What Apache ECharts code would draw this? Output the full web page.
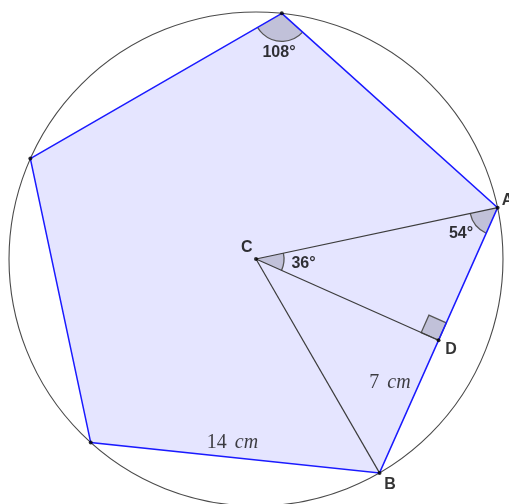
<!DOCTYPE html>
<html>
<head>
<meta charset="utf-8">
<script src="https://cdn.jsdelivr.net/npm/echarts@6/dist/echarts.min.js"></script>
<style>
html,body{margin:0;padding:0;background:#fff;}
#chart{width:509px;height:504px;}
</style>
</head>
<body>
<div id="chart"></div>
<script>
// Geometry in cm, origin at the centre C (y up)
const circleRadius = 11.909;
const pentagonX = [1.245, 11.649, 5.955, -7.969, -10.880];
const pentagonY = [11.845, 2.476, -10.314, -8.851, 4.844];
const pointNames = ['C', 'A', 'D', 'B'];
const pointX = [0, 11.649, 8.802, 5.955];
const pointY = [0, 2.476, -3.919, -10.314];
// segments from C
const segFrom = ['C', 'C', 'C'];
const segTo = ['A', 'B', 'D'];
// angles: vertex, arm1, arm2
const angleVertexX = [1.245, 11.649, 0];
const angleVertexY = [11.845, 2.476, 0];
const angleArm1X = [-10.880, 0, 11.649];
const angleArm1Y = [4.844, 0, 2.476];
const angleArm2X = [11.649, 5.955, 8.802];
const angleArm2Y = [2.476, -10.314, -3.919];
const angleLabels = ['108°', '54°', '36°'];
const angleLabelX = [1.109, 9.885, 2.290];
const angleLabelY = [9.932, 1.205, -0.217];
// text labels
const labelTexts = ['C', 'A', 'D', 'B'];
const labelX = [-0.448, 11.85, 9.402, 6.46];
const labelY = [0.530, 2.797, -4.388, -10.884];
const lengthTexts = ['7', '14'];
const lengthX = [6.461, -1.133];
const lengthY = [-5.979, -8.872];

const S = 20.74; // px per cm (used only to size the visible window)
const xMin = -256 / S, xMax = 253 / S, yMax = 259 / S, yMin = -245 / S;

function pt(name) { const i = pointNames.indexOf(name); return [pointX[i], pointY[i]]; }

const chart = echarts.init(document.getElementById('chart'), null, {renderer: 'canvas'});

const ink = '#3c3c3c';
const wedgeFill = 'rgba(110,110,130,0.3)';

const option = {
  animation: false,
  backgroundColor: '#fff',
  grid: {left: 0, right: 0, top: 0, bottom: 0, containLabel: false},
  xAxis: {type: 'value', min: xMin, max: xMax, show: false},
  yAxis: {type: 'value', min: yMin, max: yMax, show: false},
  series: [
    { // circle
      type: 'custom', coordinateSystem: 'cartesian2d', data: [[0, 0]], z: 1, silent: true, clip: false,
      renderItem: function (params, api) {
        const c = api.coord([api.value(0), api.value(1)]);
        const r = api.size([circleRadius, 0])[0];
        return {type: 'circle', shape: {cx: c[0], cy: c[1], r: r},
          style: {fill: null, stroke: '#4a4a4a', lineWidth: 1.1}};
      }
    },
    { // pentagon fill
      type: 'custom', coordinateSystem: 'cartesian2d', data: [[0, 0]], z: 2, silent: true, clip: false,
      renderItem: function (params, api) {
        const pts = pentagonX.map((x, i) => api.coord([x, pentagonY[i]]));
        return {type: 'polygon', shape: {points: pts}, style: {fill: 'rgb(229,229,255)', stroke: null}};
      }
    },
    { // angle wedges
      type: 'custom', coordinateSystem: 'cartesian2d',
      data: angleVertexX.map((x, i) => [x, angleVertexY[i], angleArm1X[i], angleArm1Y[i], angleArm2X[i], angleArm2Y[i]]),
      z: 3, silent: true, clip: false,
      renderItem: function (params, api) {
        const v = api.coord([api.value(0), api.value(1)]);
        const p1 = api.coord([api.value(2), api.value(3)]);
        const p2 = api.coord([api.value(4), api.value(5)]);
        let a1 = Math.atan2(p1[1] - v[1], p1[0] - v[0]);
        let a2 = Math.atan2(p2[1] - v[1], p2[0] - v[0]);
        let d = a2 - a1;
        while (d < 0) d += 2 * Math.PI;
        let start = a1, end = a2;
        if (d > Math.PI) { start = a2; end = a1; }
        while (end < start) end += 2 * Math.PI;
        const r = 28;
        return {type: 'group', children: [
          {type: 'sector', shape: {cx: v[0], cy: v[1], r0: 0, r: r, startAngle: start, endAngle: end, clockwise: true},
            style: {fill: wedgeFill, stroke: null}},
          {type: 'arc', shape: {cx: v[0], cy: v[1], r: r, startAngle: start, endAngle: end, clockwise: true},
            style: {fill: null, stroke: '#555', lineWidth: 1.3}}
        ]};
      }
    },
    { // right angle mark at D
      type: 'custom', coordinateSystem: 'cartesian2d', data: [[pt('D')[0], pt('D')[1]]], z: 3, silent: true, clip: false,
      renderItem: function (params, api) {
        const d = api.coord([api.value(0), api.value(1)]);
        const c = api.coord(pt('C'));
        const a = api.coord(pt('A'));
        const s = 19;
        const u1 = [c[0] - d[0], c[1] - d[1]], l1 = Math.hypot(u1[0], u1[1]);
        const u2 = [a[0] - d[0], a[1] - d[1]], l2 = Math.hypot(u2[0], u2[1]);
        const e1 = [u1[0] / l1 * s, u1[1] / l1 * s], e2 = [u2[0] / l2 * s, u2[1] / l2 * s];
        const pts = [d, [d[0] + e1[0], d[1] + e1[1]], [d[0] + e1[0] + e2[0], d[1] + e1[1] + e2[1]], [d[0] + e2[0], d[1] + e2[1]]];
        return {type: 'polygon', shape: {points: pts}, style: {fill: wedgeFill, stroke: '#555', lineWidth: 1.3}};
      }
    },
    { // pentagon edges
      type: 'custom', coordinateSystem: 'cartesian2d', data: [[0, 0]], z: 4, silent: true, clip: false,
      renderItem: function (params, api) {
        const pts = pentagonX.map((x, i) => api.coord([x, pentagonY[i]]));
        return {type: 'polygon', shape: {points: pts}, style: {fill: null, stroke: '#1a1aff', lineWidth: 1.5}};
      }
    },
    { // segments from C
      type: 'custom', coordinateSystem: 'cartesian2d',
      data: segFrom.map((f, i) => [pt(f)[0], pt(f)[1], pt(segTo[i])[0], pt(segTo[i])[1]]),
      z: 4, silent: true, clip: false,
      renderItem: function (params, api) {
        const p = api.coord([api.value(0), api.value(1)]);
        const q = api.coord([api.value(2), api.value(3)]);
        return {type: 'line', shape: {x1: p[0], y1: p[1], x2: q[0], y2: q[1]}, style: {stroke: ink, lineWidth: 1.2}};
      }
    },
    { // points
      type: 'scatter', z: 5, silent: true, symbolSize: 4,
      itemStyle: {color: '#000'},
      data: pentagonX.map((x, i) => [x, pentagonY[i]]).concat([[pointX[0], pointY[0]], [pointX[2], pointY[2]]])
    },
    { // point labels
      type: 'scatter', z: 6, silent: true, symbolSize: 0,
      data: labelTexts.map((t, i) => ({value: [labelX[i], labelY[i]], name: t, label: {align: i === 1 ? 'left' : 'center'}})),
      label: {show: true, position: 'inside', formatter: p => p.name,
        fontFamily: 'Liberation Sans, Arial, sans-serif', fontSize: 16, fontWeight: 'bold', color: '#000', verticalAlign: 'middle'}
    },
    { // angle labels
      type: 'scatter', z: 6, silent: true, symbolSize: 0,
      data: angleLabels.map((t, i) => ({value: [angleLabelX[i], angleLabelY[i]], name: t})),
      label: {show: true, position: 'inside', formatter: p => p.name, align: 'center', verticalAlign: 'middle',
        fontFamily: 'Liberation Sans, Arial, sans-serif', fontSize: 16, fontWeight: 'bold', color: '#000'}
    },
    { // length labels
      type: 'scatter', z: 6, silent: true, symbolSize: 0,
      data: lengthTexts.map((t, i) => ({value: [lengthX[i], lengthY[i]], name: t})),
      label: {show: true, position: 'inside', align: 'center', verticalAlign: 'middle',
        formatter: p => '{n|' + p.name + '}{g| }{i|cm}',
        rich: {
          n: {fontFamily: 'Liberation Serif, serif', fontSize: 20, color: '#111'},
          g: {fontFamily: 'Liberation Serif, serif', fontSize: 20, width: 8},
          i: {fontFamily: 'Liberation Serif, serif', fontSize: 20, fontStyle: 'italic', color: '#111'}
        }}
    }
  ]
};
chart.setOption(option);
</script>
</body>
</html>
